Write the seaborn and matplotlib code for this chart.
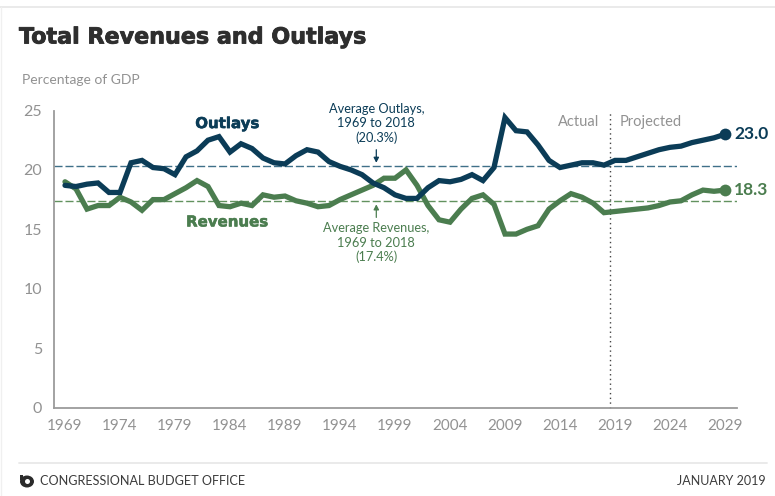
import pandas as pd
import matplotlib
matplotlib.use("Agg")
import matplotlib.pyplot as plt
import matplotlib.patheffects as pe
from matplotlib.lines import Line2D
from matplotlib.patches import Ellipse, Polygon
import seaborn as sns

years = list(range(1969, 2030))
outlays = [18.7, 18.6, 18.8, 18.9, 18.1, 18.1, 20.6, 20.8, 20.2, 20.1,
           19.6, 21.1, 21.6, 22.5, 22.8, 21.5, 22.2, 21.8, 21.0, 20.6,
           20.5, 21.2, 21.7, 21.5, 20.7, 20.3, 20.0, 19.6, 18.9, 18.5,
           17.9, 17.6, 17.6, 18.5, 19.1, 19.0, 19.2, 19.6, 19.1, 20.2,
           24.4, 23.3, 23.2, 22.1, 20.8, 20.2, 20.4, 20.6, 20.6, 20.4,
           20.8, 20.8, 21.1, 21.4, 21.7, 21.9, 22.0, 22.3, 22.5, 22.7, 23.0]
revenues = [19.0, 18.4, 16.7, 17.0, 17.0, 17.7, 17.3, 16.6, 17.5, 17.5,
            18.0, 18.5, 19.1, 18.6, 17.0, 16.9, 17.2, 17.0, 17.9, 17.7,
            17.8, 17.4, 17.2, 16.9, 17.0, 17.5, 17.9, 18.3, 18.7, 19.3,
            19.3, 20.0, 18.7, 17.0, 15.8, 15.6, 16.7, 17.6, 17.9, 17.1,
            14.6, 14.6, 15.0, 15.3, 16.7, 17.4, 18.0, 17.7, 17.2, 16.4,
            16.5, 16.6, 16.7, 16.8, 17.0, 17.3, 17.4, 17.9, 18.3, 18.2, 18.3]
avg_outlays = 20.3
avg_revenues = 17.4
x_ticks = list(range(1969, 2030, 5))
y_ticks = [0, 5, 10, 15, 20, 25]
split_year = 2018.5

NAVY = "#0b3c57"
GREEN = "#4b7d4f"
NAVY_DASH = "#3f7089"
GREEN_DASH = "#62925f"
GREY = "#929292"
AXIS = "#9b9b9b"
FONT = "Lato"
HEAVY = "DejaVu Sans"

sns.set_theme(style="white")
plt.rcParams["font.family"] = [FONT, "DejaVu Sans"]

W, H = 775, 496
fig = plt.figure(figsize=(W / 100, H / 100), dpi=100, facecolor="white")

# Plot area in pixels: left 54, right 737, top 110.5 (y=25), bottom 407.5 (y=0)
ax = fig.add_axes([54 / W, 1 - 407.5 / H, (737 - 54) / W, (407.5 - 110.5) / H])
px_per_year = 11.0
ax.set_xlim(1969 - (65 - 54) / px_per_year, 1969 + (737 - 65) / px_per_year)
ax.set_ylim(0, 25)

df = pd.DataFrame({
    "year": years * 2,
    "pct": outlays + revenues,
    "series": ["Outlays"] * len(years) + ["Revenues"] * len(years),
})

ax.axhline(avg_outlays, color=NAVY_DASH, lw=1.0, dashes=(5.8, 2.1), zorder=1)
ax.axhline(avg_revenues, color=GREEN_DASH, lw=1.0, dashes=(5.8, 2.1), zorder=1)
ax.axvline(split_year, ymin=0, ymax=1.0, color="#444444", lw=1, ls=(0, (1, 2.4)),
           clip_on=False, zorder=1)

sns.lineplot(data=df, x="year", y="pct", hue="series", hue_order=["Revenues", "Outlays"],
             palette={"Outlays": NAVY, "Revenues": GREEN}, lw=3.8, legend=False,
             errorbar=None, ax=ax, zorder=3)
for line in ax.get_lines():
    line.set_solid_joinstyle("miter")

ax.scatter([years[-1]], [outlays[-1]], s=72, color=NAVY, zorder=4, clip_on=False, lw=0)
ax.scatter([years[-1]], [revenues[-1]], s=72, color=GREEN, zorder=4, clip_on=False, lw=0)

sns.despine(ax=ax, top=True, right=True)
for side in ("left", "bottom"):
    ax.spines[side].set_color(AXIS)
    ax.spines[side].set_linewidth(1.3)
ax.spines["left"].set_zorder(2)

ax.set_xticks(x_ticks)
ax.set_yticks(y_ticks)
ax.set_xlabel("")
ax.set_ylabel("")
ax.tick_params(axis="x", direction="in", length=6, width=0.9, color="#777777",
               labelsize=11, labelcolor=GREY, pad=8)
ax.tick_params(axis="y", direction="in", length=7, width=1.2, color=AXIS,
               labelsize=11.5, labelcolor=GREY, pad=8.5)

# Extra stroke thickens the bold face for the title and series names
def thicken(text, color, width):
    text.set_path_effects([pe.withStroke(linewidth=width, foreground=color)])

# Series names and end-of-line values
thicken(ax.text(1983.75, 23.9, "Outlays", color=NAVY, fontsize=10.8, fontfamily=HEAVY,
                fontweight="bold", ha="center", va="center"), NAVY, 0.4)
thicken(ax.text(1983.75, 15.62, "Revenues", color=GREEN, fontsize=10.8, fontfamily=HEAVY,
                fontweight="bold", ha="center", va="center"), GREEN, 0.4)
ax.text(years[-1] + 0.85, outlays[-1], f"{outlays[-1]:.1f}", color=NAVY, fontsize=12.5,
        fontweight="bold", ha="left", va="center")
ax.text(years[-1] + 0.85, revenues[-1], f"{revenues[-1]:.1f}", color=GREEN, fontsize=12.5,
        fontweight="bold", ha="left", va="center")

# Average callouts with short arrows pointing at the dashed lines
ax.text(1997.3, 23.9, "Average Outlays,\n1969 to 2018\n(20.3%)", color=NAVY, fontsize=9.2,
        ha="center", va="center", linespacing=1.22)
ax.text(1997.3, 13.85, "Average Revenues,\n1969 to 2018\n(17.4%)", color=GREEN, fontsize=9.2,
        ha="center", va="center", linespacing=1.22)
ax.annotate("", xy=(1997.3, 20.6), xytext=(1997.3, 21.7),
            arrowprops=dict(arrowstyle="-|>,head_width=0.13,head_length=0.25", color=NAVY,
                            lw=0.9, shrinkA=0, shrinkB=0))
ax.annotate("", xy=(1997.3, 17.1), xytext=(1997.3, 16.0),
            arrowprops=dict(arrowstyle="-|>,head_width=0.13,head_length=0.25", color=GREEN,
                            lw=0.9, shrinkA=0, shrinkB=0))

ax.text(2017.55, 24.0, "Actual", color=GREY, fontsize=10.5, ha="right", va="center")
ax.text(2019.4, 24.0, "Projected", color=GREY, fontsize=10.5, ha="left", va="center")

# Page furniture: title, unit note, rules, footer
title = fig.text(19 / W, 1 - 37.5 / H, "Total Revenues and Outlays", fontsize=16, fontfamily=HEAVY,
                 fontweight="bold", color="#2e2e2e", ha="left", va="center")
thicken(title, "#2e2e2e", 0.6)
fig.text(22 / W, 1 - 80 / H, "Percentage of GDP", fontsize=10, color=GREY, ha="left", va="center")
fig.text(40 / W, 1 - 481 / H, "CONGRESSIONAL BUDGET OFFICE", fontsize=9.1, color="#3c3c3c",
         ha="left", va="center")
fig.text(766 / W, 1 - 481 / H, "JANUARY 2019", fontsize=9, color="#3c3c3c", ha="right", va="center")

def rule(x0, y0, x1, y1, color="#e8e8e8", lw=1.3):
    fig.add_artist(Line2D([x0 / W, x1 / W], [1 - y0 / H, 1 - y1 / H], color=color, lw=lw))

rule(0, 6.5, W, 6.5)
rule(19, 462.5, 767, 462.5)
rule(0.5, 6.5, 0.5, H, color="#f0f0f0", lw=1)

# Small round emblem beside the agency name
fig.add_artist(Ellipse((27 / W, 1 - 481.5 / H), 14 / W, 12 / H, color="#2b2b2b",
                       transform=fig.transFigure, lw=0))
fig.add_artist(Polygon([(20 / W, 1 - 475 / H), (23 / W, 1 - 475 / H), (23 / W, 1 - 480 / H),
                        (20 / W, 1 - 480 / H)], closed=True, color="#2b2b2b",
                       transform=fig.transFigure, lw=0))
fig.add_artist(Ellipse((27.5 / W, 1 - 481.5 / H), 5 / W, 5 / H, color="white",
                       transform=fig.transFigure, lw=0))
fig.savefig("out.png", dpi=100, facecolor="white")
